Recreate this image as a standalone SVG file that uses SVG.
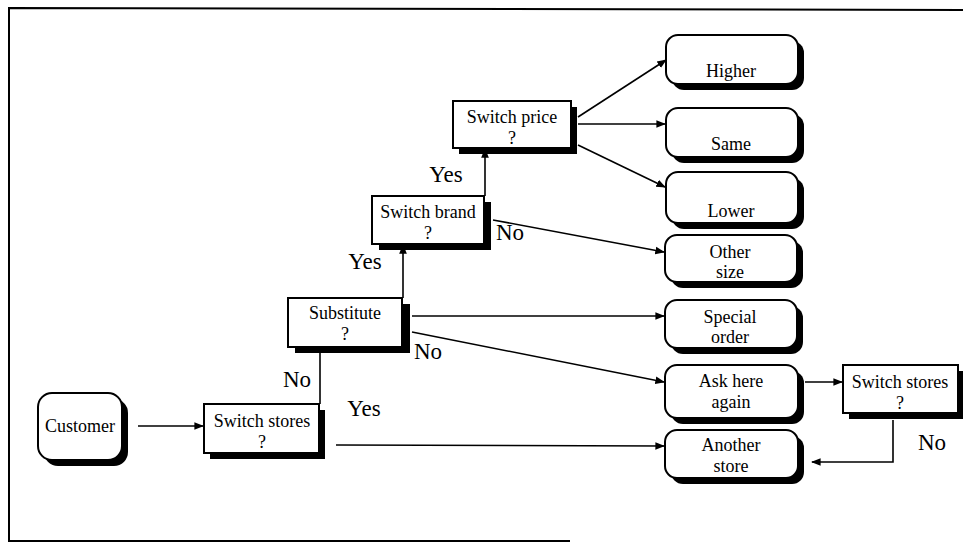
<svg xmlns="http://www.w3.org/2000/svg" width="963" height="544" viewBox="0 0 963 544">
  <style>
    .frame { stroke: #000; stroke-width: 2; fill: none; }
    .box { fill: #fff; stroke: #000; stroke-width: 2; }
    .shadow { fill: #000; }
    .t { font-family: "Liberation Serif", "Times New Roman", serif; font-size: 18px; fill: #000; text-anchor: middle; }
    .lbl { font-family: "Liberation Serif", "Times New Roman", serif; font-size: 23px; fill: #000; text-anchor: middle; }
    .c { stroke: #000; stroke-width: 1.6; fill: none; }
    .ca { stroke: #000; stroke-width: 1.6; fill: none; marker-end: url(#arrow); }
  </style>
  <defs>
    <marker id="arrow" viewBox="0 0 10 10" refX="9" refY="5" markerWidth="6" markerHeight="6" orient="auto" markerUnits="strokeWidth">
      <path d="M0,1 L10,5 L0,9 Z" fill="#000"/>
    </marker>
  </defs>

  <rect width="963" height="544" fill="#fff"/>

  <!-- page frame -->
  <path class="frame" d="M963,10 L9,8 L9,541 L570,541"/>

  <!-- connectors -->
  <g id="connectors">
    <line class="ca" x1="138" y1="426" x2="203" y2="426"/>
    <line class="c" x1="320" y1="404" x2="320" y2="353"/>
    <line class="ca" x1="336" y1="445" x2="664" y2="446"/>
    <line class="ca" x1="403" y1="298" x2="403" y2="245"/>
    <line class="ca" x1="412" y1="316" x2="664" y2="316"/>
    <line class="ca" x1="412" y1="332" x2="664" y2="382"/>
    <line class="ca" x1="485" y1="196" x2="485" y2="149"/>
    <line class="ca" x1="493" y1="220" x2="664" y2="252"/>
    <line class="ca" x1="578" y1="117" x2="666" y2="60"/>
    <line class="ca" x1="578" y1="124" x2="665" y2="124"/>
    <line class="ca" x1="578" y1="145" x2="665" y2="187"/>
    <line class="ca" x1="805" y1="382" x2="842" y2="382"/>
    <polyline class="ca" points="893,420 893,462 812,462"/>
  </g>

  <!-- branch labels -->
  <g id="labels">
    <text class="lbl" x="297" y="387">No</text>
    <text class="lbl" x="364" y="416">Yes</text>
    <text class="lbl" x="428" y="359">No</text>
    <text class="lbl" x="365" y="269">Yes</text>
    <text class="lbl" x="510" y="240">No</text>
    <text class="lbl" x="446" y="182">Yes</text>
    <text class="lbl" x="932" y="450">No</text>
  </g>

  <!-- start -->
  <g id="customer">
    <rect class="shadow" x="44" y="399" width="84" height="67" rx="14"/>
    <rect class="box" x="38" y="393" width="84" height="67" rx="14"/>
    <text class="t" x="80" y="432">Customer</text>
  </g>

  <!-- decisions -->
  <g id="switch-stores-1">
    <rect class="shadow" x="210" y="410" width="115" height="49"/>
    <rect class="box" x="204" y="404" width="115" height="49"/>
    <text class="t" x="262" y="427">Switch stores</text>
    <text class="t" x="262" y="448">?</text>
  </g>
  <g id="substitute">
    <rect class="shadow" x="295" y="304" width="115" height="49"/>
    <rect class="box" x="288" y="298" width="114" height="49"/>
    <text class="t" x="345" y="319">Substitute</text>
    <text class="t" x="345" y="340">?</text>
  </g>
  <g id="switch-brand">
    <rect class="shadow" x="379" y="202" width="112" height="48"/>
    <rect class="box" x="372" y="196" width="112" height="48"/>
    <text class="t" x="428" y="218">Switch brand</text>
    <text class="t" x="428" y="239">?</text>
  </g>
  <g id="switch-price">
    <rect class="shadow" x="459" y="107" width="118" height="47"/>
    <rect class="box" x="453" y="101" width="118" height="47"/>
    <text class="t" x="512" y="123">Switch price</text>
    <text class="t" x="512" y="144">?</text>
  </g>
  <g id="switch-stores-2">
    <rect class="shadow" x="849" y="371" width="114" height="48"/>
    <rect class="box" x="843" y="365" width="115" height="48"/>
    <text class="t" x="900" y="388">Switch stores</text>
    <text class="t" x="900" y="409">?</text>
  </g>

  <!-- outcomes -->
  <g id="higher">
    <rect class="shadow" x="672" y="41" width="132" height="49" rx="12"/>
    <rect class="box" x="666" y="35" width="132" height="49" rx="12"/>
    <text class="t" x="731" y="77">Higher</text>
  </g>
  <g id="same">
    <rect class="shadow" x="672" y="114" width="132" height="49" rx="12"/>
    <rect class="box" x="666" y="108" width="132" height="49" rx="12"/>
    <text class="t" x="731" y="150">Same</text>
  </g>
  <g id="lower">
    <rect class="shadow" x="672" y="178" width="132" height="51" rx="12"/>
    <rect class="box" x="666" y="172" width="132" height="51" rx="12"/>
    <text class="t" x="731" y="217">Lower</text>
  </g>
  <g id="other-size">
    <rect class="shadow" x="671" y="241" width="132" height="47" rx="12"/>
    <rect class="box" x="665" y="235" width="132" height="47" rx="12"/>
    <text class="t" x="730" y="258">Other</text>
    <text class="t" x="730" y="278">size</text>
  </g>
  <g id="special-order">
    <rect class="shadow" x="671" y="306" width="132" height="48" rx="12"/>
    <rect class="box" x="665" y="300" width="132" height="48" rx="12"/>
    <text class="t" x="730" y="323">Special</text>
    <text class="t" x="730" y="343">order</text>
  </g>
  <g id="ask-here-again">
    <rect class="shadow" x="671" y="371" width="133" height="53" rx="12"/>
    <rect class="box" x="665" y="365" width="133" height="53" rx="12"/>
    <text class="t" x="731" y="387">Ask here</text>
    <text class="t" x="731" y="408">again</text>
  </g>
  <g id="another-store">
    <rect class="shadow" x="671" y="436" width="133" height="48" rx="12"/>
    <rect class="box" x="665" y="430" width="133" height="48" rx="12"/>
    <text class="t" x="731" y="451">Another</text>
    <text class="t" x="731" y="472">store</text>
  </g>
</svg>
